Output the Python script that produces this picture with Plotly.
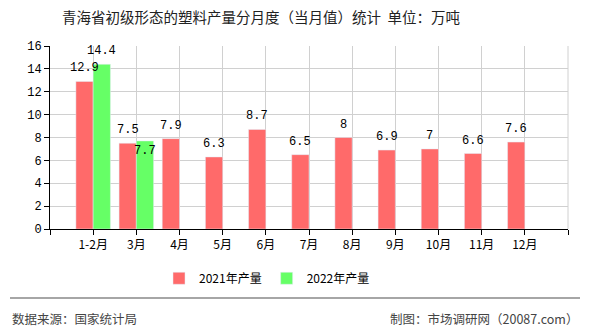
import plotly.graph_objects as go

categories = ["1-2月", "3月", "4月", "5月", "6月", "7月", "8月", "9月", "10月", "11月", "12月"]
values_2021 = [12.9, 7.5, 7.9, 6.3, 8.7, 6.5, 8, 6.9, 7, 6.6, 7.6]
values_2022 = [14.4, 7.7, None, None, None, None, None, None, None, None, None]
y_ticks = [0, 2, 4, 6, 8, 10, 12, 14, 16]

x = list(range(len(categories)))
font_cn = "Noto Sans CJK SC, sans-serif"
mono = "Liberation Mono, DejaVu Sans Mono, monospace"

def fmt(v):
    return "%g" % v

fig = go.Figure()
fig.add_trace(go.Bar(x=x, y=values_2021, name="2021年产量", marker_color="#FF6A6A"))
fig.add_trace(go.Bar(x=x, y=values_2022, name="2022年产量", marker_color="#66FF66"))

annotations = []
for i, v in enumerate(values_2021):
    annotations.append(dict(x=i - 0.2, y=v, xref="x", yref="y", text=fmt(v),
                            showarrow=False, yanchor="bottom", yshift=4,
                            font=dict(family=mono, size=12, color="#000")))
for i, v in enumerate(values_2022):
    if v is None:
        continue
    inside = i == 1
    annotations.append(dict(x=i + 0.2, y=v, xref="x", yref="y", text=fmt(v),
                            showarrow=False,
                            yanchor="top" if inside else "bottom",
                            yshift=-1 if inside else 4,
                            font=dict(family=mono, size=12, color="#000")))

tickvals = [-1] + x + [len(categories)]
ticktext = [""] + categories + [""]

annotations += [
    dict(text="数据来源：国家统计局", xref="paper", yref="paper",
         x=-40/518, y=-89/183, xanchor="left", yanchor="middle", showarrow=False,
         font=dict(family=font_cn, size=12.5, color="#444")),
    dict(text="制图：市场调研网（20087.com）", xref="paper", yref="paper",
         x=(580-50)/518, y=-89/183, xanchor="right", yanchor="middle", showarrow=False,
         font=dict(family=font_cn, size=12.5, color="#444")),
]

fig.update_layout(
    width=590, height=330,
    margin=dict(l=50, r=22, t=46, b=101),
    paper_bgcolor="white", plot_bgcolor="white",
    barmode="group", bargap=0.2, bargroupgap=0,
    font=dict(family=font_cn, size=12, color="#000"),
    title=dict(text="青海省初级形态的塑料产量分月度（当月值）统计  单位：万吨",
               x=261/590, xanchor="center", y=0.945, yanchor="middle",
               font=dict(family=font_cn, size=14.5, color="#222")),
    showlegend=True,
    legend=dict(orientation="h", x=(267-50)/518, xanchor="center", y=-0.19, yanchor="top",
                font=dict(family=font_cn, size=12, color="#000"),
                itemwidth=30, traceorder="normal"),
    xaxis=dict(range=[-1, len(categories)], tickmode="array", tickvals=tickvals,
               ticktext=ticktext, showgrid=True, gridcolor="#D0D0D0", gridwidth=1,
               showline=True, linecolor="#000", linewidth=1, ticks="outside",
               ticklen=5, tickcolor="#000", mirror=False, zeroline=False,
               tickfont=dict(family=font_cn, size=12, color="#000")),
    yaxis=dict(range=[0, 16], tickmode="array", tickvals=y_ticks,
               showgrid=True, gridcolor="#D0D0D0", gridwidth=1,
               showline=True, linecolor="#000", linewidth=1, ticks="outside",
               ticklen=5, tickcolor="#000", zeroline=False,
               tickfont=dict(family=mono, size=12, color="#000")),
    shapes=[
        dict(type="line", xref="paper", yref="paper", x0=1, x1=1, y0=0, y1=1,
             line=dict(color="#D0D0D0", width=1)),
        dict(type="line", xref="paper", yref="paper",
             x0=-40/518, x1=(580-50)/518, y0=-69/183, y1=-69/183,
             line=dict(color="#888", width=1.5)),
    ],
    annotations=annotations,
)

fig.write_html("out.html")
